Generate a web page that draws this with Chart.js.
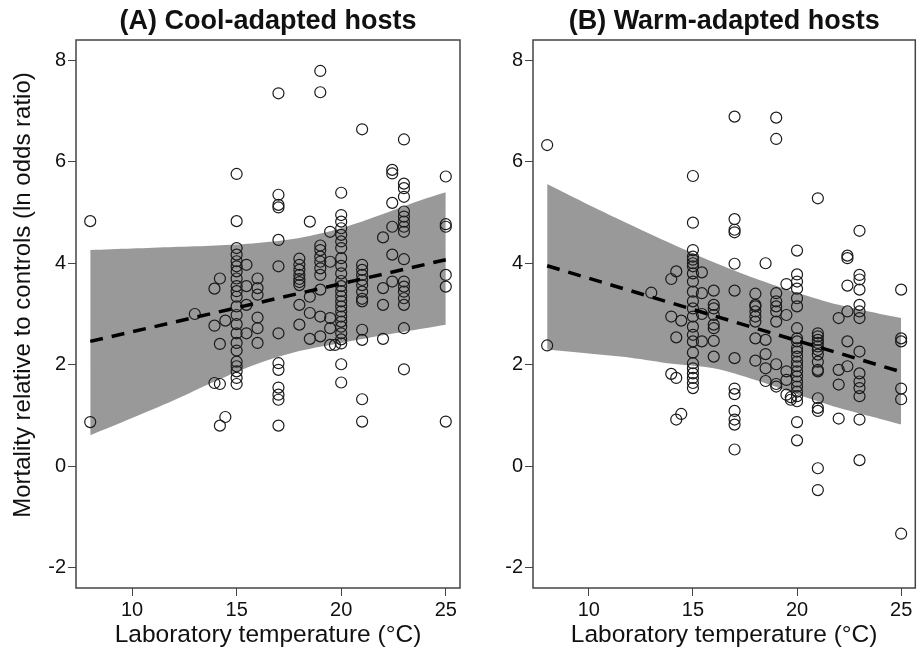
<!DOCTYPE html>
<html>
<head>
<meta charset="utf-8">
<script src="https://cdn.jsdelivr.net/npm/chart.js@4.4.1/dist/chart.umd.min.js"></script>
<style>
  html, body { margin: 0; padding: 0; background: #fff; overflow: hidden; }
  #cajaA { position: absolute; left: 0; top: 0; width: 470px; height: 657px; }
  #cajaB { position: absolute; left: 470px; top: 0; width: 452px; height: 657px; }
</style>
</head>
<body>
<div id="cajaA"><canvas id="graficoA"></canvas></div>
<div id="cajaB"><canvas id="graficoB"></canvas></div>
<script>
// Datos
const xTicks = [10, 15, 20, 25];
const yTicks = [-2, 0, 2, 4, 6, 8];

// (A) huespedes adaptados al frio
const coolTemp = [
  8, 8, 13, 13.94, 13.94, 13.94, 14.2, 14.2, 14.2, 14.2, 14.46, 14.46,
  15, 15, 15, 15, 15, 15, 15, 15, 15, 15, 15, 15, 15, 15, 15, 15, 15, 15, 15, 15, 15, 15,
  15.47, 15.47, 15.47, 15.47,
  16, 16, 16, 16, 16, 16,
  17, 17, 17, 17, 17, 17, 17, 17, 17, 17, 17, 17, 17,
  18, 18, 18, 18, 18, 18, 18, 18, 18,
  18.5, 18.5, 18.5, 18.5,
  19, 19, 19, 19, 19, 19, 19, 19, 19, 19, 19,
  19.47, 19.47, 19.47, 19.47, 19.47, 19.7,
  20, 20, 20, 20, 20, 20, 20, 20, 20, 20, 20, 20, 20, 20, 20, 20, 20, 20, 20, 20, 20, 20, 20, 20, 20,
  21, 21, 21, 21, 21, 21, 21, 21, 21, 21, 21, 21, 21,
  22, 22, 22, 22,
  22.44, 22.44, 22.44, 22.44, 22.44, 22.44,
  23, 23, 23, 23, 23, 23, 23, 23, 23, 23, 23, 23, 23, 23, 23, 23, 23,
  25, 25, 25, 25, 25, 25
];
const coolMort = [
  4.83, 0.87, 3.0, 3.5, 2.77, 1.64, 3.7, 2.41, 1.62, 0.8, 2.87, 0.97,
  5.76, 4.83, 4.3, 4.17, 4.04, 3.94, 3.84, 3.7, 3.55, 3.45, 3.34, 3.15, 2.98, 2.8, 2.62, 2.43, 2.28, 2.06, 1.97, 1.87, 1.74, 1.62,
  3.97, 3.55, 3.18, 2.62,
  3.7, 3.51, 3.38, 2.93, 2.72, 2.43,
  7.35, 5.35, 5.15, 5.1, 4.46, 3.94, 2.62, 2.03, 1.9, 1.55, 1.41, 1.31, 0.8,
  4.09, 3.97, 3.87, 3.77, 3.69, 3.63, 3.57, 3.18, 2.79,
  4.82, 3.34, 3.02, 2.51,
  7.79, 7.37, 4.35, 4.26, 4.13, 4.03, 3.9, 3.77, 3.48, 2.95, 2.56,
  4.62, 4.03, 2.92, 2.72, 2.39, 2.39,
  5.39, 4.95, 4.82, 4.69, 4.56, 4.43, 4.3, 4.1, 3.95, 3.8, 3.65, 3.55, 3.45, 3.35, 3.25, 3.15, 3.05, 2.95, 2.85, 2.75, 2.62, 2.5, 2.42, 2.01, 1.65,
  6.64, 3.97, 3.87, 3.77, 3.67, 3.57, 3.44, 3.3, 3.25, 2.69, 2.49, 1.32, 0.88,
  4.51, 3.51, 3.18, 2.51,
  5.84, 5.77, 5.19, 4.72, 4.17, 3.64,
  6.44, 5.57, 5.48, 5.31, 5.02, 4.92, 4.82, 4.72, 4.62, 4.08, 3.64, 3.54, 3.44, 3.31, 3.18, 2.72, 1.91,
  5.71, 4.77, 4.72, 3.77, 3.54, 0.88
];

// (B) huespedes adaptados al calor
const warmTemp = [
  8, 8, 13, 13.96, 13.96, 13.96, 14.2, 14.2, 14.2, 14.2, 14.44, 14.44,
  15, 15, 15, 15, 15, 15, 15, 15, 15, 15, 15, 15, 15, 15, 15, 15, 15, 15, 15, 15, 15, 15, 15,
  15.43, 15.43, 15.43, 15.43,
  16, 16, 16, 16, 16, 16, 16, 16,
  17, 17, 17, 17, 17, 17, 17, 17, 17, 17, 17, 17, 17,
  18, 18, 18, 18, 18, 18, 18, 18,
  18.49, 18.49, 18.49, 18.49, 18.49,
  19, 19, 19, 19, 19, 19, 19, 19, 19, 19,
  19.49, 19.49, 19.49, 19.49, 19.49, 19.7, 19.7,
  20, 20, 20, 20, 20, 20, 20, 20, 20, 20, 20, 20, 20, 20, 20, 20, 20, 20, 20, 20, 20, 20, 20,
  21, 21, 21, 21, 21, 21, 21, 21, 21, 21, 21, 21, 21, 21, 21, 21,
  22, 22, 22, 22,
  22.42, 22.42, 22.42, 22.42, 22.42, 22.42,
  23, 23, 23, 23, 23, 23, 23, 23, 23, 23, 23, 23, 23, 23,
  25, 25, 25, 25, 25, 25
];
const warmMort = [
  6.33, 2.38, 3.42, 3.69, 2.95, 1.82, 3.84, 2.54, 1.74, 0.92, 2.87, 1.03,
  5.72, 4.8, 4.26, 4.13, 4.07, 4.0, 3.94, 3.8, 3.64, 3.44, 3.25, 3.11, 2.95, 2.75, 2.59, 2.46, 2.24, 2.03, 1.93, 1.83, 1.74, 1.64, 1.54,
  3.82, 3.41, 3.0, 2.46,
  3.46, 3.18, 3.11, 2.98, 2.79, 2.72, 2.47, 2.16,
  6.89, 4.87, 4.66, 4.61, 3.99, 3.46, 2.13, 1.53, 1.42, 1.09, 0.92, 0.82, 0.33,
  3.4, 3.18, 3.15, 3.05, 2.95, 2.85, 2.52, 2.08,
  4.0, 2.49, 2.21, 1.93, 1.68,
  6.87, 6.45, 3.41, 3.25, 3.15, 3.05, 2.85, 2.01, 1.62, 1.57,
  3.59, 2.98, 1.87, 1.7, 1.41, 1.31, 1.36,
  4.25, 3.78, 3.64, 3.5, 3.31, 3.15, 2.72, 2.52, 2.46, 2.33, 2.26, 2.16, 2.06, 1.97, 1.87, 1.77, 1.67, 1.57, 1.47, 1.28, 0.87, 0.51, 1.38,
  5.28, 2.62, 2.56, 2.49, 2.43, 2.36, 2.29, 2.2, 2.06, 1.9, 1.87, 1.34, 1.15, 1.09, -0.04, -0.47,
  2.92, 1.9, 1.61, 0.94,
  4.15, 4.1, 3.56, 3.05, 2.46, 1.97,
  4.64, 3.77, 3.68, 3.48, 3.18, 3.05, 2.92, 2.26, 1.83, 1.67, 1.54, 1.38, 0.92, 0.12,
  3.48, 2.52, 2.46, 1.53, 1.32, -1.33
];

// Rectas ajustadas e intervalos de confianza
const fitTemp = [8, 25];
const coolFit = [2.46, 4.07];
const warmFit = [3.95, 1.86];

const bandTemp = [8, 10, 12, 14, 16, 18, 20, 22, 24, 25];
const coolUpper = [4.26, 4.29, 4.32, 4.35, 4.4, 4.5, 4.69, 4.97, 5.27, 5.4];
const coolLower = [0.61, 0.95, 1.3, 1.68, 2.02, 2.27, 2.43, 2.58, 2.72, 2.79];
const warmUpper = [5.56, 5.15, 4.76, 4.38, 4.02, 3.7, 3.42, 3.18, 3.0, 2.92];
const warmLower = [2.3, 2.22, 2.14, 2.02, 1.93, 1.7, 1.42, 1.15, 0.93, 0.82];

const FUENTE = "'Liberation Sans', Arial, sans-serif";

const unir = (xs, ys) => xs.map((x, i) => ({ x: x, y: ys[i] }));

// Marco alrededor del area y etiqueta del eje Y
const marcoPlugin = {
  id: 'marco',
  afterDraw(chart, args, opts) {
    const { ctx, chartArea } = chart;
    ctx.save();
    ctx.strokeStyle = '#444';
    ctx.lineWidth = 1.5;
    ctx.strokeRect(chartArea.left, chartArea.top, chartArea.right - chartArea.left, chartArea.bottom - chartArea.top);
    if (opts.etiquetaY) {
      ctx.translate(23, 295);
      ctx.rotate(-Math.PI / 2);
      ctx.fillStyle = '#111';
      ctx.font = '24px ' + FUENTE;
      ctx.textAlign = 'center';
      ctx.textBaseline = 'middle';
      ctx.fillText(opts.etiquetaY, 0, 0);
    }
    ctx.restore();
  }
};

const crearGrafico = (id, titulo, temps, morts, fit, upper, lower, anchoY, padDer, etiquetaY) => {
  const ctx = document.getElementById(id).getContext('2d');
  return new Chart(ctx, {
    type: 'scatter',
    data: {
      datasets: [
        {
          type: 'line',
          data: unir(bandTemp, upper),
          borderColor: 'rgba(0,0,0,0)',
          borderWidth: 0,
          backgroundColor: '#999999',
          pointRadius: 0,
          tension: 0.3,
          fill: '+1',
          order: 3
        },
        {
          type: 'line',
          data: unir(bandTemp, lower),
          borderColor: 'rgba(0,0,0,0)',
          borderWidth: 0,
          pointRadius: 0,
          tension: 0.3,
          fill: false,
          order: 3
        },
        {
          data: unir(temps, morts),
          pointStyle: 'circle',
          pointRadius: 5.5,
          pointBorderWidth: 1.2,
          pointBorderColor: '#1a1a1a',
          pointBackgroundColor: 'rgba(0,0,0,0)',
          order: 2
        },
        {
          type: 'line',
          data: unir(fitTemp, fit),
          borderColor: '#000',
          borderWidth: 3.5,
          borderDash: [13, 9],
          pointRadius: 0,
          fill: false,
          order: 1
        }
      ]
    },
    options: {
      responsive: true,
      maintainAspectRatio: false,
      animation: false,
      layout: { padding: { left: 0, right: padDer, top: 0, bottom: 0 } },
      plugins: {
        legend: { display: false },
        tooltip: { enabled: false },
        title: {
          display: true,
          text: titulo,
          fullSize: false,
          color: '#111',
          font: { family: FUENTE, size: 27, weight: 'bold', lineHeight: 1.2 },
          padding: { top: 5, bottom: 2.6 }
        },
        marco: { etiquetaY: etiquetaY }
      },
      scales: {
        x: {
          type: 'linear',
          min: 7.32,
          max: 25.68,
          afterBuildTicks: (s) => { s.ticks = xTicks.map(v => ({ value: v })); },
          afterFit: (s) => { s.height = 69; },
          grid: { display: true, drawOnChartArea: false, drawTicks: true, tickLength: 8, color: '#444' },
          border: { display: false },
          ticks: { color: '#111', padding: 2, maxRotation: 0, font: { family: FUENTE, size: 20 } },
          title: {
            display: true,
            text: 'Laboratory temperature (°C)',
            color: '#111',
            font: { family: FUENTE, size: 24.5, lineHeight: 1.2 },
            padding: { top: 0, bottom: 7 }
          }
        },
        y: {
          type: 'linear',
          min: -2.4,
          max: 8.4,
          afterBuildTicks: (s) => { s.ticks = yTicks.map(v => ({ value: v })); },
          afterFit: (s) => { s.width = anchoY; },
          grid: { display: true, drawOnChartArea: false, drawTicks: true, tickLength: 8, color: '#444' },
          border: { display: false },
          ticks: { color: '#111', padding: 2, font: { family: FUENTE, size: 20 } }
        }
      }
    },
    plugins: [marcoPlugin]
  });
};

document.addEventListener('DOMContentLoaded', function() {
  crearGrafico('graficoA', '(A) Cool-adapted hosts', coolTemp, coolMort, coolFit, coolUpper, coolLower, 76, 10,
    'Mortality relative to controls (ln odds ratio)');
  crearGrafico('graficoB', '(B) Warm-adapted hosts', warmTemp, warmMort, warmFit, warmUpper, warmLower, 63, 4, null);
});
</script>
</body>
</html>
